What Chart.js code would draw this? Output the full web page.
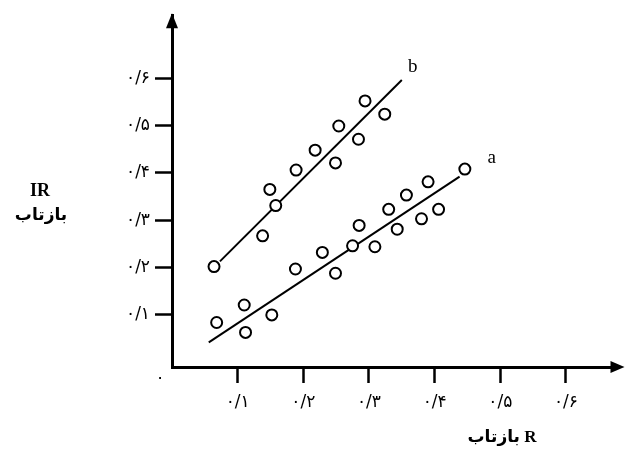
<!DOCTYPE html>
<html>
<head>
<meta charset="utf-8">
<script src="https://cdn.jsdelivr.net/npm/chart.js@4/dist/chart.umd.min.js"></script>
<style>
html,body{margin:0;padding:0;background:#fff;}
canvas{display:block;}
</style>
</head>
<body>
<canvas id="c" width="626" height="451"></canvas>
<script>
// ---- data ----
const seriesA_x = [0.068,0.110,0.112,0.152,0.188,0.229,0.249,0.275,0.285,0.309,0.330,0.343,0.357,0.380,0.390,0.406,0.446];
const seriesA_y = [0.084,0.121,0.063,0.100,0.197,0.232,0.188,0.246,0.289,0.244,0.323,0.281,0.353,0.303,0.381,0.323,0.408];
const seriesB_x = [0.064,0.138,0.149,0.158,0.189,0.218,0.249,0.254,0.284,0.294,0.324];
const seriesB_y = [0.202,0.267,0.365,0.331,0.406,0.448,0.421,0.499,0.471,0.552,0.524];
const fitA_x = [0.056,0.438];
const fitA_y = [0.042,0.392];
const fitB_x = [0.073,0.350];
const fitB_y = [0.213,0.596];
const xTickValues = [0.1,0.2,0.3,0.4,0.5,0.6];
const xTickLabels = ['۰/۱','۰/۲','۰/۳','۰/۴','۰/۵','۰/۶'];
const yTickValues = [0.1,0.2,0.3,0.4,0.5,0.6];
const yTickLabels = ['۰/۱','۰/۲','۰/۳','۰/۴','۰/۵','۰/۶'];
const seriesNames = ['a','b'];
const xTitle = 'بازتاب R';
const yTitle1 = 'IR';
const yTitle2 = 'بازتاب';
const originLabel = '۰';

const pts = (xs,ys)=>xs.map((x,i)=>({x:x,y:ys[i]}));
const tickFont = {family:"'DejaVu Sans', 'Liberation Serif', serif", size:17};

const decor = {
  id:'decor',
  afterDraw(chart){
    const ctx = chart.ctx, a = chart.chartArea;
    const xs = chart.scales.x, ys = chart.scales.y;
    ctx.save();
    ctx.fillStyle = '#000';
    // arrow heads
    ctx.beginPath();
    ctx.moveTo(a.left, a.top - 2);
    ctx.lineTo(a.left - 6, a.top + 13);
    ctx.lineTo(a.left + 6, a.top + 13);
    ctx.closePath(); ctx.fill();
    ctx.beginPath();
    ctx.moveTo(a.right + 6, a.bottom);
    ctx.lineTo(a.right - 8, a.bottom - 6);
    ctx.lineTo(a.right - 8, a.bottom + 6);
    ctx.closePath(); ctx.fill();
    // origin label
    ctx.font = "17px 'DejaVu Sans'";
    ctx.textAlign = 'center'; ctx.textBaseline = 'middle';
    ctx.fillText(originLabel, a.left - 12, a.bottom + 12);
    // series labels at end of fit lines
    ctx.font = "19px 'Liberation Serif', serif";
    const ea = {x: xs.getPixelForValue(fitA_x[1]), y: ys.getPixelForValue(fitA_y[1])};
    const eb = {x: xs.getPixelForValue(fitB_x[1]), y: ys.getPixelForValue(fitB_y[1])};
    ctx.fillText(seriesNames[0], ea.x + 32, ea.y - 19);
    ctx.fillText(seriesNames[1], eb.x + 11, eb.y - 13);
    // axis titles
    ctx.font = "bold 18px 'Liberation Serif', serif";
    ctx.fillText(yTitle1, 40, 191);
    ctx.font = "bold 17px 'DejaVu Sans', 'Liberation Serif', serif";
    ctx.fillText(yTitle2, 41, 216);
    ctx.font = "bold 17px 'Liberation Serif', 'DejaVu Sans', serif";
    ctx.fillText(xTitle, 502, 438);
    ctx.restore();
  }
};

new Chart(document.getElementById('c'), {
  type:'scatter',
  data:{
    datasets:[
      {label:'a', data:pts(seriesA_x,seriesA_y), showLine:false, pointRadius:5.5, pointHoverRadius:5.5,
       pointBorderWidth:2, pointBorderColor:'#000', pointBackgroundColor:'#fff', borderColor:'#000', backgroundColor:'#fff', order:0},
      {label:'b', data:pts(seriesB_x,seriesB_y), showLine:false, pointRadius:5.5, pointHoverRadius:5.5,
       pointBorderWidth:2, pointBorderColor:'#000', pointBackgroundColor:'#fff', borderColor:'#000', backgroundColor:'#fff', order:0},
      {label:'fit a', data:pts(fitA_x,fitA_y), showLine:true, pointRadius:0, borderColor:'#000', borderWidth:2, fill:false, order:1},
      {label:'fit b', data:pts(fitB_x,fitB_y), showLine:true, pointRadius:0, borderColor:'#000', borderWidth:2, fill:false, order:1}
    ]
  },
  options:{
    responsive:false,
    animation:false,
    devicePixelRatio:1,
    layout:{padding:{left:0, right:7, top:15, bottom:0}},
    plugins:{legend:{display:false}, tooltip:{enabled:false}},
    scales:{
      x:{
        type:'linear', min:0, max:0.68,
        afterFit(s){ s.height = 84; },
        afterBuildTicks(s){ s.ticks = xTickValues.map(v=>({value:v})); },
        grid:{drawOnChartArea:false, drawTicks:true, tickLength:16, tickWidth:2.5, tickColor:'#000'},
        border:{display:true, color:'#000', width:3},
        ticks:{callback:(v,i)=>xTickLabels[i], color:'#000', font:tickFont, padding:9, maxRotation:0, autoSkip:false}
      },
      y:{
        type:'linear', min:-0.01, max:0.733,
        afterFit(s){ s.width = 172; },
        afterBuildTicks(s){ s.ticks = yTickValues.map(v=>({value:v})); },
        grid:{drawOnChartArea:false, drawTicks:true, tickLength:17, tickWidth:2.5, tickColor:'#000'},
        border:{display:true, color:'#000', width:3},
        ticks:{callback:(v,i)=>yTickLabels[i], color:'#000', font:tickFont, padding:5, autoSkip:false}
      }
    }
  },
  plugins:[decor]
});
</script>
</body>
</html>
